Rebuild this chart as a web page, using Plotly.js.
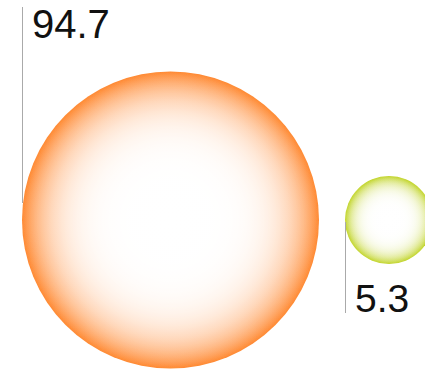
<!DOCTYPE html>
<html>
<head>
<meta charset="utf-8">
<script src="https://cdn.plot.ly/plotly-3.0.1.min.js"></script>
<style>html,body{margin:0;padding:0;background:#fff;}#chart{width:425px;height:371px;}</style>
</head>
<body>
<div id="chart"></div>
<script>
// ---- data ----
const values = [94.7, 5.3];
const labels = ['94.7', '5.3'];
const positions = [0, 1];

// ---- style ----
const edgeColors = ['#FF8A33', '#C2D52A'];
const diameters = [297, 88];
const lineColor = '#AAAAAA';
const labelSizes = [40, 39];
const labelOffsets = [ // pixel offsets of labels relative to bubble centre
  {dx: -141, dy: 196},
  {dx: -36, dy: -78}
];
const leaderSpans = [ // vertical pixel span of leader line (relative to centre)
  [17, 213],
  [-2, -93]
];
const whiteningLayers = 4;

const base = {
  type: 'scatter', mode: 'markers',
  x: positions, y: positions.map(() => 0),
  hoverinfo: 'skip',
  marker: {
    size: diameters, sizemode: 'diameter', opacity: 1,
    color: edgeColors,
    gradient: {type: 'radial', color: '#FFFFFF'},
    line: {width: 0}
  }
};
const overlay = () => ({
  type: 'scatter', mode: 'markers',
  x: positions, y: positions.map(() => 0),
  hoverinfo: 'skip',
  marker: {
    size: diameters, sizemode: 'diameter', opacity: 1,
    color: 'rgba(255,255,255,0)',
    gradient: {type: 'radial', color: 'rgba(255,255,255,1)'},
    line: {width: 0}
  }
});

const shapes = positions.map((p, i) => ({
  type: 'line',
  xref: 'x', xsizemode: 'pixel', xanchor: p,
  x0: -diameters[i] / 2 + 0.5, x1: -diameters[i] / 2 + 0.5,
  yref: 'y', ysizemode: 'pixel', yanchor: 0,
  y0: leaderSpans[i][0], y1: leaderSpans[i][1],
  line: {color: lineColor, width: 1}
}));

const annotations = positions.map((p, i) => ({
  x: p, y: 0, xref: 'x', yref: 'y',
  text: labels[i], showarrow: false,
  xanchor: 'left', yanchor: 'middle',
  xshift: labelOffsets[i].dx, yshift: labelOffsets[i].dy,
  font: {family: 'Liberation Sans, Arial, sans-serif', size: labelSizes[i], color: '#111111'}
}));

const layout = {
  width: 425, height: 371,
  margin: {l: 0, r: 0, t: 0, b: 0},
  paper_bgcolor: '#FFFFFF', plot_bgcolor: '#FFFFFF',
  showlegend: false,
  xaxis: {range: [-170.5 / 218.5, 254.5 / 218.5], visible: false, fixedrange: true},
  yaxis: {range: [-1.51, 2.20], visible: false, fixedrange: true},
  shapes: shapes,
  annotations: annotations
};

const traces = [base];
for (let k = 0; k < whiteningLayers; k++) traces.push(overlay());
Plotly.newPlot('chart', traces, layout, {displayModeBar: false, staticPlot: true});
</script>
</body>
</html>
